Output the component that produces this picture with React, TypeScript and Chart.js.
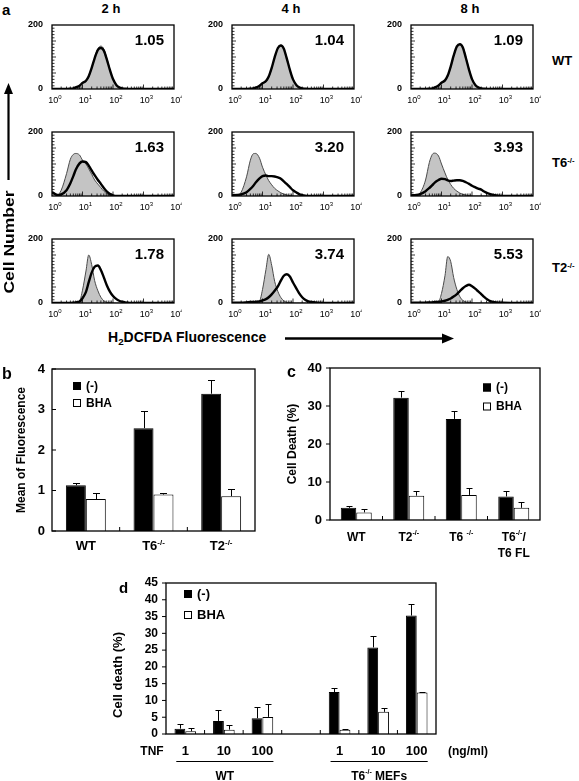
import React, { useEffect, useRef } from 'react';
import { Chart, registerables } from 'chart.js';

Chart.register(...registerables);

const FONT = "'Liberation Sans', Arial, Helvetica, sans-serif";

// ---------------- Panel a : flow cytometry histograms ----------------
const TIME_POINTS = ['2 h', '4 h', '8 h'];
const GENOTYPE_LABELS = ['WT', 'T6', 'T2'];
const GENOTYPE_SUPS = ['', '-/-', '-/-'];
const HIST_X_TICKS = [1, 10, 100, 1000, 10000];
const HIST_X_EXPONENTS = ['0', '1', '2', '3', '4'];
const HIST_Y_LABELS = [0, 200];
const MEAN_RATIOS = [
  ['1.05', '1.04', '1.09'],
  ['1.63', '3.20', '3.93'],
  ['1.78', '3.74', '5.53'],
];
// fluorescence channel values (x) at which the histogram counts were read
const CHANNELS = [1, 1.5, 2, 3, 4, 5, 6, 8, 10, 13, 16, 20, 25, 32, 40, 50, 63, 80, 100, 130, 160, 200, 250, 320, 400, 630, 1000, 3000, 10000];

const WT_2H_UNTREATED = [0, 0, 0, 0, 1, 2, 4, 9, 17, 24, 38, 65, 98, 126, 134, 125, 95, 60, 32, 12, 5, 2, 1, 0, 0, 0, 0, 0, 0];
const WT_2H_TNF = [0, 0, 0, 0, 1, 2, 5, 10, 19, 26, 40, 66, 96, 122, 128, 120, 92, 58, 31, 12, 5, 2, 1, 0, 0, 0, 0, 0, 0];
const WT_4H_UNTREATED = [0, 0, 0, 0, 1, 2, 4, 9, 16, 23, 37, 64, 98, 128, 137, 127, 96, 60, 31, 12, 5, 2, 1, 0, 0, 0, 0, 0, 0];
const WT_4H_TNF = [0, 0, 0, 0, 1, 2, 4, 10, 18, 25, 39, 66, 99, 128, 136, 126, 94, 58, 30, 12, 5, 2, 1, 0, 0, 0, 0, 0, 0];
const WT_8H_UNTREATED = [0, 0, 0, 0, 1, 2, 4, 9, 17, 25, 40, 68, 102, 132, 141, 132, 100, 62, 32, 12, 5, 2, 1, 0, 0, 0, 0, 0, 0];
const WT_8H_TNF = [0, 0, 0, 0, 1, 2, 5, 11, 20, 27, 42, 70, 104, 133, 140, 130, 97, 60, 31, 12, 5, 2, 1, 0, 0, 0, 0, 0, 0];

const T6_2H_UNTREATED = [8, 3, 18, 70, 115, 130, 133, 128, 112, 100, 85, 68, 50, 37, 26, 15, 7, 2, 0, 0, 0, 0, 0, 0, 0, 0, 0, 0, 0];
const T6_2H_TNF = [12, 3, 5, 18, 40, 62, 82, 102, 108, 106, 95, 80, 65, 50, 38, 25, 14, 6, 2, 0, 0, 0, 0, 0, 0, 0, 0, 0, 0];
const T6_4H_UNTREATED = [3, 3, 12, 60, 112, 132, 133, 118, 90, 65, 48, 35, 24, 16, 10, 6, 3, 1, 0, 0, 0, 0, 0, 0, 0, 0, 0, 0, 0];
const T6_4H_TNF = [2, 3, 5, 12, 22, 32, 42, 55, 62, 64, 62, 62, 61, 58, 54, 46, 37, 27, 18, 11, 6, 3, 1, 0, 0, 0, 0, 0, 0];
const T6_8H_UNTREATED = [2, 3, 10, 50, 105, 130, 134, 125, 100, 72, 52, 36, 24, 15, 9, 5, 3, 1, 0, 0, 0, 0, 0, 0, 0, 0, 0, 0, 0];
const T6_8H_TNF = [2, 3, 6, 15, 25, 34, 42, 50, 54, 53, 49, 47, 48, 49, 49, 47, 43, 38, 32, 27, 23, 20, 14, 9, 6, 2, 0, 0, 0];

const T2_2H_UNTREATED = [0, 0, 0, 0, 0, 0, 1, 5, 40, 100, 150, 120, 70, 38, 18, 7, 2, 1, 0, 0, 0, 0, 0, 0, 0, 0, 0, 0, 0];
const T2_2H_TNF = [0, 0, 0, 0, 0, 1, 2, 5, 15, 35, 65, 95, 113, 117, 103, 80, 55, 35, 22, 12, 7, 4, 2, 1, 0, 0, 0, 0, 0];
const T2_4H_UNTREATED = [0, 0, 0, 0, 0, 0, 1, 6, 42, 105, 152, 118, 68, 36, 17, 7, 2, 1, 0, 0, 0, 0, 0, 0, 0, 0, 0, 0, 0];
const T2_4H_TNF = [1, 1, 1, 2, 3, 3, 4, 5, 8, 12, 18, 27, 38, 52, 70, 85, 90, 82, 64, 45, 30, 18, 10, 5, 3, 1, 0, 0, 0];
const T2_8H_UNTREATED = [0, 0, 0, 0, 0, 0, 1, 4, 30, 85, 145, 130, 80, 42, 20, 8, 3, 1, 0, 0, 0, 0, 0, 0, 0, 0, 0, 0, 0];
const T2_8H_TNF = [1, 1, 1, 1, 2, 2, 3, 3, 5, 7, 10, 14, 20, 28, 37, 46, 53, 57, 52, 44, 36, 28, 19, 11, 6, 2, 1, 0, 0];

const HIST_TABLE = [
  [[WT_2H_UNTREATED, WT_2H_TNF], [WT_4H_UNTREATED, WT_4H_TNF], [WT_8H_UNTREATED, WT_8H_TNF]],
  [[T6_2H_UNTREATED, T6_2H_TNF], [T6_4H_UNTREATED, T6_4H_TNF], [T6_8H_UNTREATED, T6_8H_TNF]],
  [[T2_2H_UNTREATED, T2_2H_TNF], [T2_4H_UNTREATED, T2_4H_TNF], [T2_8H_UNTREATED, T2_8H_TNF]],
];

// ---------------- Panel b ----------------
const B_CATEGORIES = ['WT', 'T6', 'T2'];
const B_CATEGORY_SUPS = ['', '-/-', '-/-'];
const B_CTRL = [1.13, 2.54, 3.39];
const B_CTRL_ERR = [0.06, 0.43, 0.34];
const B_BHA = [0.79, 0.9, 0.86];
const B_BHA_ERR = [0.14, 0.03, 0.17];
const B_Y_TICKS = [0, 1, 2, 3, 4];

// ---------------- Panel c ----------------
const C_CATEGORIES = ['WT', 'T2', 'T6 ', 'T6'];
const C_CATEGORY_SUPS = ['', '-/-', '-/-', '-/-'];
const C_CATEGORY_SUFFIX = ['', '', '', '/'];
const C_CATEGORY_LINE2 = ['', '', '', 'T6 FL'];
const C_CTRL = [3.2, 32.2, 26.6, 6.2];
const C_CTRL_ERR = [0.5, 1.7, 2.0, 1.5];
const C_BHA = [2.0, 6.4, 6.6, 3.2];
const C_BHA_ERR = [1.0, 1.2, 1.8, 1.5];
const C_Y_TICKS = [0, 10, 20, 30, 40];

// ---------------- Panel d ----------------
const D_TNF_DOSES = ['1', '10', '100', '', '1', '10', '100'];
const D_CTRL = [1.6, 3.9, 4.7, null, 12.5, 25.8, 35.3];
const D_CTRL_ERR = [1.5, 3.3, 3.4, null, 1.2, 3.3, 3.4];
const D_BHA = [0.8, 1.3, 5.1, null, 1.3, 6.6, 12.4];
const D_BHA_ERR = [0.9, 1.4, 3.7, null, 0.2, 1.1, 0.15];
const D_Y_TICKS = [0, 5, 10, 15, 20, 25, 30, 35, 40, 45];
const D_GROUPS = ['WT', 'T6'];
const D_GROUP_SUPS = ['', '-/-'];
const D_GROUP_SUFFIX = ['', ' MEFs'];

const SERIES_LABELS = ['(-)', 'BHA'];

// ---------------- layout ----------------
const HIST_COL_LEFT = [52, 232, 411];
const HIST_ROW_TOP = [25, 132, 239];
const HIST_W = 122;
const HIST_H = 64;
const HP = { left: 36, top: 6, right: 8, bottom: 20 };

type Part = { t: string; sup?: boolean };

function drawRich(ctx: CanvasRenderingContext2D, parts: Part[], x: number, baseline: number, size: number, align: string, bold = true) {
  const w = bold ? 'bold ' : '';
  const big = `${w}${size}px ${FONT}`;
  const small = `${w}${Math.round(size * 0.62)}px ${FONT}`;
  let total = 0;
  const widths = parts.map((p) => {
    ctx.font = p.sup ? small : big;
    const m = ctx.measureText(p.t).width;
    total += m;
    return m;
  });
  let cx = align === 'center' ? x - total / 2 : align === 'right' ? x - total : x;
  ctx.textAlign = 'left';
  ctx.textBaseline = 'alphabetic';
  parts.forEach((p, i) => {
    ctx.font = p.sup ? small : big;
    ctx.fillText(p.t, cx, baseline - (p.sup ? size * 0.42 : 0));
    cx += widths[i];
  });
}

function seg(ctx: CanvasRenderingContext2D, x1: number, y1: number, x2: number, y2: number) {
  ctx.beginPath();
  ctx.moveTo(x1, y1);
  ctx.lineTo(x2, y2);
  ctx.stroke();
}

function histDecor(ratio: string) {
  return {
    id: 'histDecor',
    afterDatasetsDraw(chart: any) {
      const { ctx, chartArea: a } = chart;
      const xs = chart.scales.x;
      const ys = chart.scales.y;
      ctx.save();
      ctx.strokeStyle = '#000';
      ctx.fillStyle = '#000';
      ctx.lineWidth = 1.3;
      ctx.strokeRect(a.left, a.top, a.right - a.left, a.bottom - a.top);
      ctx.lineWidth = 0.8;
      for (let v = 10; v < 200; v += 10) {
        const py = ys.getPixelForValue(v);
        seg(ctx, a.left, py, a.left + (v % 50 === 0 ? 4 : 2.5), py);
      }
      for (let d = 1; d <= 1000; d *= 10) {
        for (let m = 1; m <= 9; m++) {
          const v = d * m;
          if (v === 1) continue;
          const px = xs.getPixelForValue(v);
          seg(ctx, px, a.bottom, px, a.bottom - (m === 1 ? 4.5 : 2.5));
        }
      }
      ctx.font = `bold 9px ${FONT}`;
      ctx.textAlign = 'right';
      ctx.textBaseline = 'middle';
      HIST_Y_LABELS.forEach((v) => ctx.fillText(String(v), a.left - 9, ys.getPixelForValue(v)));
      HIST_X_TICKS.forEach((v, i) => {
        drawRich(ctx, [{ t: '10' }, { t: HIST_X_EXPONENTS[i], sup: true }], xs.getPixelForValue(v) + 3, a.bottom + 14, 9, 'center', false);
      });
      ctx.font = `bold 15px ${FONT}`;
      ctx.textAlign = 'right';
      ctx.textBaseline = 'alphabetic';
      ctx.fillText(ratio, a.right - 10, a.top + 20);
      ctx.restore();
    },
  };
}

function histConfig(untreated: number[], treated: number[], ratio: string) {
  return {
    type: 'line',
    data: {
      datasets: [
        {
          label: 'untreated',
          data: CHANNELS.map((c, i) => ({ x: c, y: untreated[i] })),
          borderColor: '#4a4a4a',
          borderWidth: 1,
          backgroundColor: '#c4c4c4',
          fill: 'origin',
          pointRadius: 0,
          cubicInterpolationMode: 'monotone',
          order: 2,
        },
        {
          label: 'TNF',
          data: CHANNELS.map((c, i) => ({ x: c, y: treated[i] })),
          borderColor: '#000',
          borderWidth: 2.4,
          fill: false,
          pointRadius: 0,
          cubicInterpolationMode: 'monotone',
          order: 1,
        },
      ],
    },
    options: {
      animation: false,
      responsive: false,
      events: [],
      layout: { padding: HP },
      plugins: { legend: { display: false }, tooltip: { enabled: false } },
      scales: {
        x: { type: 'logarithmic', min: 1, max: 10000, display: false },
        y: { type: 'linear', min: 0, max: 200, display: false },
      },
    },
    plugins: [histDecor(ratio)],
  };
}

type BarOpts = {
  yTicks: number[];
  yLabelRight: number;
  yFont: number;
  yTickInside: boolean;
  yTitle: string;
  yTitleX: number;
  yTitleY: number;
  yTitleFont: number;
  xLabels: Part[][][];
  xBaseline: number;
  xLineGap: number;
  xFont: number;
  legendX: number;
  legendY: number[];
  legendFont: number;
  capW: number;
  extra?: (ctx: CanvasRenderingContext2D, chart: any) => void;
};

function barDecor(o: BarOpts) {
  return {
    id: 'barDecor',
    afterDatasetsDraw(chart: any) {
      const { ctx, chartArea: a } = chart;
      const xs = chart.scales.x;
      const ys = chart.scales.y;
      ctx.save();
      ctx.strokeStyle = '#000';
      ctx.fillStyle = '#000';
      ctx.lineWidth = 1;
      chart.data.datasets.forEach((ds: any, di: number) => {
        const meta = chart.getDatasetMeta(di);
        ds.data.forEach((v: number | null, i: number) => {
          const e = ds.errs[i];
          if (v == null || e == null) return;
          const el = meta.data[i];
          const top = Math.round(ys.getPixelForValue(v + e)) + 0.5;
          const cx = Math.round(el.x) + 0.5;
          seg(ctx, cx, el.y, cx, top);
          seg(ctx, cx - o.capW / 2, top, cx + o.capW / 2, top);
        });
      });
      ctx.lineWidth = 1.3;
      ctx.strokeRect(a.left, a.top, a.right - a.left, a.bottom - a.top);
      ctx.lineWidth = 1;
      ctx.font = `bold ${o.yFont}px ${FONT}`;
      ctx.textAlign = 'right';
      ctx.textBaseline = 'middle';
      o.yTicks.forEach((v) => {
        const py = ys.getPixelForValue(v);
        if (o.yTickInside) seg(ctx, a.left, py, a.left + 4, py);
        else seg(ctx, a.left - 4, py, a.left, py);
        ctx.fillText(String(v), o.yLabelRight, py);
      });
      const n = chart.data.labels.length;
      for (let i = 1; i < n; i++) {
        const bx = (xs.getPixelForTick(i - 1) + xs.getPixelForTick(i)) / 2;
        seg(ctx, bx, a.bottom, bx, a.bottom - 4);
      }
      o.xLabels.forEach((lines, i) => {
        const px = xs.getPixelForTick(i);
        lines.forEach((parts, li) => drawRich(ctx, parts, px, o.xBaseline + li * o.xLineGap, o.xFont, 'center'));
      });
      ctx.save();
      ctx.translate(o.yTitleX, o.yTitleY);
      ctx.rotate(-Math.PI / 2);
      ctx.font = `bold ${o.yTitleFont}px ${FONT}`;
      ctx.textAlign = 'center';
      ctx.textBaseline = 'middle';
      ctx.fillText(o.yTitle, 0, 0);
      ctx.restore();
      chart.data.datasets.forEach((ds: any, di: number) => {
        const cy = o.legendY[di];
        ctx.fillStyle = ds.backgroundColor;
        ctx.fillRect(o.legendX, cy - 4, 8, 8);
        ctx.strokeStyle = '#000';
        ctx.lineWidth = 1;
        ctx.strokeRect(o.legendX + 0.5, cy - 3.5, 7, 7);
        ctx.fillStyle = '#000';
        ctx.font = `bold ${o.legendFont}px ${FONT}`;
        ctx.textAlign = 'left';
        ctx.textBaseline = 'middle';
        ctx.fillText(ds.label, o.legendX + 13, cy + 0.5);
      });
      if (o.extra) o.extra(ctx, chart);
      ctx.restore();
    },
  };
}

function barConfig(labels: string[], ctrl: any[], ctrlErr: any[], bha: any[], bhaErr: any[], yMax: number, catPct: number, pad: any, decor: BarOpts) {
  return {
    type: 'bar',
    data: {
      labels,
      datasets: [
        { label: SERIES_LABELS[0], data: ctrl, errs: ctrlErr, backgroundColor: '#000', borderColor: '#000', borderWidth: 1, categoryPercentage: catPct, barPercentage: 1 },
        { label: SERIES_LABELS[1], data: bha, errs: bhaErr, backgroundColor: '#fff', borderColor: '#000', borderWidth: 1, categoryPercentage: catPct, barPercentage: 1 },
      ],
    },
    options: {
      animation: false,
      responsive: false,
      events: [],
      layout: { padding: pad },
      plugins: { legend: { display: false }, tooltip: { enabled: false } },
      scales: {
        x: { display: false },
        y: { min: 0, max: yMax, display: false },
      },
    },
    plugins: [barDecor(decor)],
  };
}

function ChartCanvas({ left, top, width, height, make }: any) {
  const ref = useRef<HTMLCanvasElement>(null);
  useEffect(() => {
    const chart = new Chart(ref.current as HTMLCanvasElement, make());
    return () => chart.destroy();
  }, []);
  return <canvas ref={ref} width={width} height={height} style={{ position: 'absolute', left, top, width, height }} />;
}

function Txt({ x, y, size, children, align = 'center', bold = true, rotate = 0, extra = '' }: any) {
  const tx = align === 'center' ? '-50%' : align === 'right' ? '-100%' : '0';
  return (
    <div
      style={{
        position: 'absolute',
        left: x,
        top: y,
        transform: `translate(${tx}, -50%)${rotate ? ` rotate(${rotate}deg)` : ''}${extra}`,
        fontFamily: FONT,
        fontWeight: bold ? 700 : 400,
        fontSize: size,
        lineHeight: 1,
        whiteSpace: 'nowrap',
        color: '#000',
      }}
    >
      {children}
    </div>
  );
}

const Sup = ({ children }: any) => <span style={{ fontSize: '0.6em', position: 'relative', top: '-0.55em' }}>{children}</span>;
const Sub = ({ children }: any) => <span style={{ fontSize: '0.7em', position: 'relative', top: '0.3em' }}>{children}</span>;

const partsWithSup = (label: string, sup: string, suffix = ''): Part[] => {
  const p: Part[] = [{ t: label }];
  if (sup) p.push({ t: sup, sup: true });
  if (suffix) p.push({ t: suffix });
  return p;
};

export default function App() {
  const hist: any[] = [];
  HIST_TABLE.forEach((row, r) =>
    row.forEach((pair, c) => {
      hist.push(
        <ChartCanvas
          key={`h${r}${c}`}
          left={HIST_COL_LEFT[c] - HP.left}
          top={HIST_ROW_TOP[r] - HP.top}
          width={HP.left + HIST_W + HP.right}
          height={HP.top + HIST_H + HP.bottom}
          make={() => histConfig(pair[0], pair[1], MEAN_RATIOS[r][c])}
        />
      );
    })
  );

  const bDecor: BarOpts = {
    yTicks: B_Y_TICKS, yLabelRight: 45, yFont: 13, yTickInside: true,
    yTitle: 'Mean of Fluorescence', yTitleX: 22, yTitleY: 95, yTitleFont: 12,
    xLabels: B_CATEGORIES.map((c, i) => [partsWithSup(c, B_CATEGORY_SUPS[i])]),
    xBaseline: 195, xLineGap: 16, xFont: 13,
    legendX: 73, legendY: [31, 48], legendFont: 12, capW: 7,
  };
  const cDecor: BarOpts = {
    yTicks: C_Y_TICKS, yLabelRight: 42, yFont: 13, yTickInside: false,
    yTitle: 'Cell Death (%)', yTitleX: 12.5, yTitleY: 89, yTitleFont: 12,
    xLabels: C_CATEGORIES.map((c, i) => {
      const lines = [partsWithSup(c, C_CATEGORY_SUPS[i], C_CATEGORY_SUFFIX[i])];
      if (C_CATEGORY_LINE2[i]) lines.push([{ t: C_CATEGORY_LINE2[i] }]);
      return lines;
    }),
    xBaseline: 185.5, xLineGap: 16.5, xFont: 12,
    legendX: 203, legendY: [32.5, 51.5], legendFont: 12, capW: 6,
  };
  const dDecor: BarOpts = {
    yTicks: D_Y_TICKS, yLabelRight: 78, yFont: 12, yTickInside: false,
    yTitle: 'Cell death (%)', yTitleX: 38, yTitleY: 100, yTitleFont: 13,
    xLabels: D_TNF_DOSES.map((d) => [[{ t: d }]]),
    xBaseline: 179.5, xLineGap: 16, xFont: 13,
    legendX: 104, legendY: [19, 40], legendFont: 13, capW: 6,
    extra: (ctx, chart) => {
      const xs = chart.scales.x;
      ctx.fillStyle = '#000';
      ctx.strokeStyle = '#000';
      drawRich(ctx, [{ t: 'TNF' }], 72, 179.5, 12, 'center');
      drawRich(ctx, [{ t: '(ng/ml)' }], 368, 179.5, 12, 'left');
      ctx.lineWidth = 1;
      [[0, 2], [4, 6]].forEach(([s, e], gi) => {
        const x1 = xs.getPixelForTick(s) - 9;
        const x2 = xs.getPixelForTick(e) + 11;
        seg(ctx, x1, 186.5, x2, 186.5);
        drawRich(ctx, partsWithSup(D_GROUPS[gi], D_GROUP_SUPS[gi], D_GROUP_SUFFIX[gi]), (x1 + x2) / 2, 204.5, 12, 'center');
      });
    },
  };

  return (
    <div style={{ position: 'absolute', left: 0, top: 0, width: 579, height: 781, background: '#fff', overflow: 'hidden' }}>
      {hist}
      <Txt x={2} y={9} size={15} align="left">a</Txt>
      {TIME_POINTS.map((t, i) => (
        <Txt key={t} x={HIST_COL_LEFT[i] + HIST_W / 2 - 2} y={8} size={13}>{t}</Txt>
      ))}
      {GENOTYPE_LABELS.map((g, i) => (
        <Txt key={g} x={552} y={[60, 162, 267][i]} size={13} align="left">
          {g}
          {GENOTYPE_SUPS[i] ? <Sup>{GENOTYPE_SUPS[i]}</Sup> : null}
        </Txt>
      ))}
      <Txt x={9} y={242} size={14} rotate={-90} extra=" scaleX(1.25)">Cell Number</Txt>
      <Txt x={108} y={337} size={14} align="left">
        H<Sub>2</Sub>DCFDA Fluorescence
      </Txt>
      <svg width={579} height={781} style={{ position: 'absolute', left: 0, top: 0, pointerEvents: 'none' }}>
        <line x1={8.5} y1={180} x2={8.5} y2={92} stroke="#000" strokeWidth={2.2} />
        <polygon points="8.5,83 4,94 13,94" fill="#000" />
        <line x1={285} y1={338.5} x2={444} y2={338.5} stroke="#000" strokeWidth={2.4} />
        <polygon points="454,338.5 442,333.5 442,343.5" fill="#000" />
      </svg>

      <Txt x={2} y={374} size={16} align="left">b</Txt>
      <ChartCanvas left={0} top={355} width={280} height={215}
        make={() => barConfig(B_CATEGORIES, B_CTRL, B_CTRL_ERR, B_BHA, B_BHA_ERR, 4, 0.59, { left: 52, top: 14, right: 25, bottom: 39 }, bDecor)} />

      <Txt x={287} y={372} size={16} align="left">c</Txt>
      <ChartCanvas left={280} top={355} width={299} height={212}
        make={() => barConfig(C_CATEGORIES, C_CTRL, C_CTRL_ERR, C_BHA, C_BHA_ERR, 40, 0.59, { left: 50, top: 13, right: 39, bottom: 47 }, cDecor)} />

      <Txt x={119} y={587} size={15} align="left">d</Txt>
      <ChartCanvas left={80} top={575} width={499} height={206}
        make={() => barConfig(D_TNF_DOSES, D_CTRL, D_CTRL_ERR, D_BHA, D_BHA_ERR, 45, 0.56, { left: 86, top: 8, right: 143, bottom: 47 }, dDecor)} />
    </div>
  );
}
